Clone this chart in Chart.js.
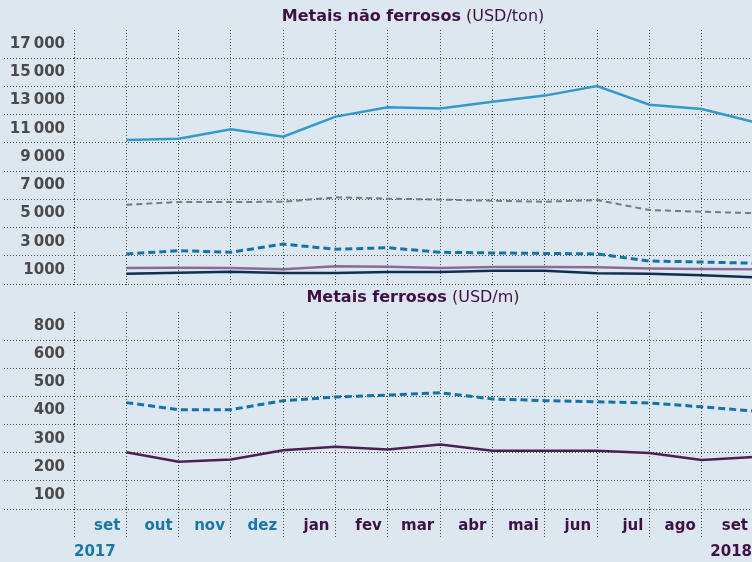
<!DOCTYPE html>
<html>
<head>
<meta charset="utf-8">
<script src="https://cdn.jsdelivr.net/npm/chart.js@4.4.1/dist/chart.umd.min.js"></script>
<style>
  html, body { margin: 0; padding: 0; width: 752px; height: 562px; overflow: hidden; background: #dde7f0; }
  canvas { position: absolute; left: 0; display: block; }
  #topChart { top: 0; }
  #bottomChart { top: 290px; }
</style>
</head>
<body>
<canvas id="topChart" width="754" height="290"></canvas>
<canvas id="bottomChart" width="754" height="272"></canvas>
<script>
// months: set 2017 .. set 2018
const months = ['set', 'out', 'nov', 'dez', 'jan', 'fev', 'mar', 'abr', 'mai', 'jun', 'jul', 'ago', 'set'];
const years = ['2017', '2018'];

// Metais não ferrosos (USD/ton)
const niquel   = [10210, 10300, 10960, 10440, 11860, 12520, 12430, 12920, 13350, 14030, 12710, 12400, 11470];
const cobre    = [5620, 5810, 5810, 5830, 6140, 6050, 5980, 5900, 5830, 5950, 5240, 5120, 5020];
const zinco    = [2130, 2360, 2250, 2830, 2460, 2570, 2250, 2200, 2170, 2130, 1630, 1560, 1470];
const aluminio = [1130, 1160, 1130, 1040, 1250, 1230, 1130, 1200, 1200, 1180, 1090, 1060, 1040];
const chumbo   = [730, 800, 870, 780, 780, 850, 850, 940, 940, 760, 730, 620, 470];

// Metais ferrosos (USD/m)
const ferrosoA = [428, 403, 403, 435, 448, 455, 463, 441, 435, 431, 427, 413, 398];
const ferrosoB = [252, 218, 226, 259, 271, 261, 279, 257, 257, 257, 249, 224, 235];

const topYLabels = ['1000', '3\u2009000', '5\u2009000', '7\u2009000', '9\u2009000', '11\u2009000', '13\u2009000', '15\u2009000', '17\u2009000'];
const bottomYLabels = ['100', '200', '300', '400', '500', '600', '800'];

const FONT = '"DejaVu Sans", sans-serif';
const GRID = '#505050';
const BLUE_TXT = '#1a77ad';
const PURPLE_TXT = '#3f1046';

const pts = arr => arr.map((v, i) => ({x: i, y: v}));

function titlePlugin(bold, normal, y) {
  return {
    id: 'splitTitle',
    afterDraw(chart) {
      const {ctx, chartArea: {left}} = chart;
      ctx.save();
      ctx.fillStyle = PURPLE_TXT;
      ctx.textBaseline = 'middle';
      ctx.font = '700 16px ' + FONT;
      const w1 = ctx.measureText(bold).width;
      ctx.font = '400 16px ' + FONT;
      const w2 = ctx.measureText(normal).width;
      const x = (left + 752) / 2 - (w1 + w2) / 2;
      ctx.font = '700 16px ' + FONT;
      ctx.fillText(bold, x, y);
      ctx.font = '400 16px ' + FONT;
      ctx.fillText(normal, x + w1, y);
      ctx.restore();
    }
  };
}

const yearPlugin = {
  id: 'years',
  afterDraw(chart) {
    const {ctx, chartArea: {left}} = chart;
    ctx.save();
    ctx.font = '700 15px ' + FONT;
    ctx.textBaseline = 'middle';
    ctx.fillStyle = BLUE_TXT;
    ctx.textAlign = 'left';
    ctx.fillText(years[0], left, 262);
    ctx.fillStyle = PURPLE_TXT;
    ctx.textAlign = 'right';
    ctx.fillText(years[1], 752, 262);
    ctx.restore();
  }
};

function xScale(showLabels) {
  return {
    type: 'linear',
    min: -1,
    max: 12,
    afterFit(axis) { axis.height = showLabels ? 53 : 6; },
    grid: {
      color: GRID,
      lineWidth: 1,
      tickLength: showLabels ? 28 : 3,
      tickBorderDash: [1, 2]
    },
    border: { display: false, dash: [1, 2] },
    ticks: {
      display: showLabels,
      stepSize: 1,
      includeBounds: false,
      autoSkip: false,
      maxRotation: 0,
      align: 'end',
      labelOffset: -6,
      padding: -20,
      font: { family: FONT, size: 15, weight: '700' },
      color: c => (c.tick && c.tick.value <= 3) ? BLUE_TXT : PURPLE_TXT,
      callback: v => (v >= 0 && v < months.length) ? months[v] : ''
    }
  };
}

function yScale(min, max, step, gridOn, labelFor) {
  return {
    min: min,
    max: max,
    afterFit(axis) { axis.width = 74; },
    grid: {
      color: c => (c.tick && gridOn(c.tick.value)) ? GRID : 'transparent',
      lineWidth: 1,
      tickLength: 70,
      tickBorderDash: [1, 2]
    },
    border: { display: false, dash: [1, 2] },
    ticks: {
      stepSize: step,
      autoSkip: false,
      padding: -61,
      font: { family: FONT, size: 15, weight: '700' },
      color: '#4a4a4a',
      callback: v => labelFor(v)
    }
  };
}

const baseOpts = {
  responsive: false,
  animation: false,
  plugins: { legend: { display: false }, tooltip: { enabled: false } },
  elements: { point: { radius: 0 }, line: { tension: 0 } }
};

new Chart(document.getElementById('topChart'), {
  type: 'line',
  data: {
    datasets: [
      { label: 'Níquel', data: pts(niquel), borderColor: '#3399cc', borderWidth: 2.5 },
      { label: 'Cobre', data: pts(cobre), borderColor: '#7a7a7a', borderWidth: 2, borderDash: [6, 4] },
      { label: 'Zinco', data: pts(zinco), borderColor: '#1273a8', borderWidth: 3, borderDash: [7, 4] },
      { label: 'Alumínio', data: pts(aluminio), borderColor: '#8c6a98', borderWidth: 2.5 },
      { label: 'Chumbo', data: pts(chumbo), borderColor: '#0d3050', borderWidth: 2.5 }
    ]
  },
  options: Object.assign({}, baseOpts, {
    layout: { padding: { top: 30, left: 0, right: 0, bottom: 0 } },
    scales: {
      x: xScale(false),
      y: yScale(0, 18000, 1000,
        v => v % 2000 === 0 && v < 18000,
        v => (v % 2000 === 1000) ? topYLabels[(v - 1000) / 2000] : '')
    }
  }),
  plugins: [titlePlugin('Metais não ferrosos', ' (USD/ton)', 17)]
});

new Chart(document.getElementById('bottomChart'), {
  type: 'line',
  data: {
    datasets: [
      { label: 'Ferroso 1', data: pts(ferrosoA), borderColor: '#1273a8', borderWidth: 3, borderDash: [7, 4] },
      { label: 'Ferroso 2', data: pts(ferrosoB), borderColor: '#4c1f55', borderWidth: 2.5 }
    ]
  },
  options: Object.assign({}, baseOpts, {
    layout: { padding: { top: 22, left: 0, right: 0, bottom: 0 } },
    scales: {
      x: xScale(true),
      y: yScale(50, 750, 50,
        v => (v - 50) % 100 === 0 && v < 750,
        v => (v % 100 === 0) ? bottomYLabels[v / 100 - 1] : '')
    }
  }),
  plugins: [titlePlugin('Metais ferrosos', ' (USD/m)', 8), yearPlugin]
});
</script>
</body>
</html>
